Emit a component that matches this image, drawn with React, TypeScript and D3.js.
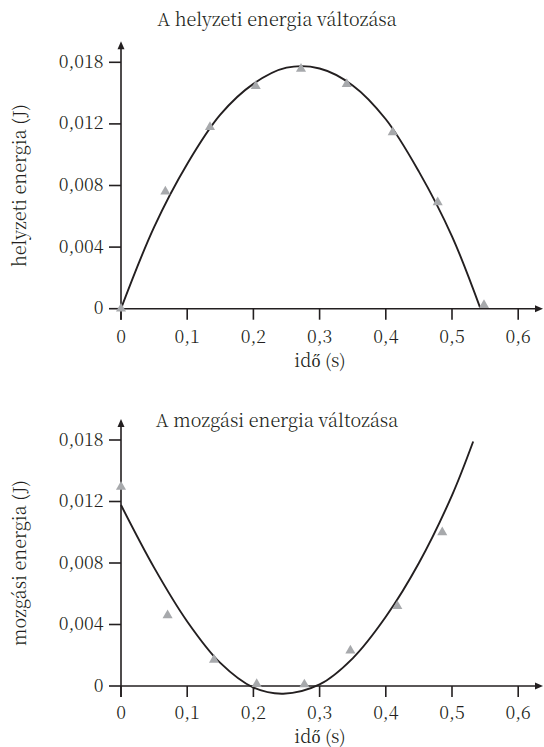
import React from "react";
import * as d3 from "d3";

// ---- data ----
const xTicks = [0, 0.1, 0.2, 0.3, 0.4, 0.5, 0.6];
const xTickLabels = ["0", "0,1", "0,2", "0,3", "0,4", "0,5", "0,6"];
const yTicks = [0, 0.004, 0.008, 0.012, 0.016];
const yTickLabels = ["0", "0,004", "0,008", "0,012", "0,018"];

const potentialTimes = [0, 0.067, 0.1344, 0.2035, 0.2719, 0.341, 0.4104, 0.4784, 0.5483];
const potentialValues = [0, 0.0076, 0.0118, 0.01446, 0.01557, 0.01459, 0.01145, 0.0069, 0.00024];
const potentialFitTimes = [0, 0.05, 0.1, 0.15, 0.2, 0.25, 0.3, 0.35, 0.4, 0.45, 0.5, 0.543];
const potentialFitValues = [0, 0.0053, 0.0094, 0.0126, 0.0146, 0.01565, 0.0156, 0.0145, 0.0123, 0.0089, 0.0047, 0];

const kineticTimes = [0, 0.0704, 0.1405, 0.205, 0.277, 0.3465, 0.4174, 0.4853];
const kineticValues = [0.01296, 0.0046, 0.0017, 0.00012, 0.0001, 0.0023, 0.0052, 0.01];
const kineticFitTimes = [0, 0.05, 0.1, 0.15, 0.2, 0.245, 0.3, 0.35, 0.4, 0.45, 0.5, 0.532];
const kineticFitValues = [0.01177, 0.0077, 0.0042, 0.0015, -0.0001, -0.0005, 0.0001, 0.0018, 0.0045, 0.008, 0.0124, 0.0159];

const INK = "#231f20";
const MARK = "#a7a9ac";
const FONT = '"Noto Serif CJK SC"';
const FS = 18;

type PanelProps = {
  top: number; // pixel y of value 0.016
  bottom: number; // pixel y of value 0
  title: string;
  titleY: number;
  yLabel: string;
  tickDy: number;
  xLabelDy: number;
  times: number[];
  values: number[];
  fitTimes: number[];
  fitValues: number[];
};

const textStyle: React.CSSProperties = { fontFamily: FONT, fontSize: FS, fill: INK, fontWeight: 300 };

function Panel(p: PanelProps) {
  const x = d3.scaleLinear().domain([0, 0.6]).range([121, 518.2]);
  const y = d3.scaleLinear().domain([0, 0.016]).range([p.bottom, p.top]);
  const x0 = x(0);
  const y0 = y(0);
  const fit = p.fitTimes.map((t, i) => [t, p.fitValues[i]] as [number, number]);
  const line = d3
    .line<[number, number]>()
    .x((d) => x(d[0]))
    .y((d) => y(d[1]))
    .curve(d3.curveCatmullRom.alpha(0.5));
  const tri = d3.symbol().type(d3.symbolTriangle).size(44);
  const arrowTop = p.top - 21;
  const arrowRight = 543;
  return (
    <g>
      <text x={277} y={p.titleY} textAnchor="middle" style={textStyle}>
        {p.title}
      </text>
      <text
        transform={`translate(25.5,${(p.top + p.bottom) / 2}) rotate(-90)`}
        textAnchor="middle"
        style={textStyle}
      >
        {p.yLabel}
      </text>
      <line x1={x0} x2={x0} y1={y0 + 11} y2={arrowTop + 6} stroke={INK} strokeWidth={1.6} />
      <path d={`M${x0},${arrowTop} L${x0 - 3.5},${arrowTop + 8} L${x0 + 3.5},${arrowTop + 8} Z`} fill={INK} />
      {yTicks.map((v, i) => (
        <g key={"y" + i}>
          <line x1={x0 - 12} x2={x0} y1={y(v)} y2={y(v)} stroke={INK} strokeWidth={1.6} />
          <text x={103.5} y={y(v) + 5.5} textAnchor="end" style={textStyle}>
            {yTickLabels[i]}
          </text>
        </g>
      ))}
      <line x1={x0} x2={arrowRight - 6} y1={y0} y2={y0} stroke={INK} strokeWidth={1.6} />
      <path d={`M${arrowRight},${y0} L${arrowRight - 8},${y0 - 3.5} L${arrowRight - 8},${y0 + 3.5} Z`} fill={INK} />
      {xTicks.map((v, i) => (
        <g key={"x" + i}>
          <line x1={x(v)} x2={x(v)} y1={y0} y2={y0 + 11} stroke={INK} strokeWidth={1.6} />
          <text x={x(v)} y={y0 + p.tickDy} textAnchor="middle" style={textStyle}>
            {xTickLabels[i]}
          </text>
        </g>
      ))}
      <text x={320} y={y0 + p.xLabelDy} textAnchor="middle" style={textStyle}>
        idő (s)
      </text>
      <path d={line(fit) || ""} fill="none" stroke={INK} strokeWidth={1.9} />
      {p.times.map((t, i) => (
        <path key={"p" + i} d={tri() || ""} transform={`translate(${x(t)},${y(p.values[i])})`} fill={MARK} />
      ))}
    </g>
  );
}

export default function App() {
  return (
    <svg
      width={544}
      height={747}
      viewBox="0 0 544 747"
      style={{ position: "absolute", left: 0, top: 0, background: "#fff" }}
    >
      <rect width={544} height={747} fill="#fff" />
      <Panel
        top={62.3}
        bottom={308.7}
        title="A helyzeti energia változása"
        titleY={26}
        yLabel="helyzeti energia (J)"
        tickDy={34.5}
        xLabelDy={58.5}
        times={potentialTimes}
        values={potentialValues}
        fitTimes={potentialFitTimes}
        fitValues={potentialFitValues}
      />
      <Panel
        top={440}
        bottom={686}
        title="A mozgási energia változása"
        titleY={427}
        yLabel="mozgási energia (J)"
        tickDy={33}
        xLabelDy={57}
        times={kineticTimes}
        values={kineticValues}
        fitTimes={kineticFitTimes}
        fitValues={kineticFitValues}
      />
    </svg>
  );
}
